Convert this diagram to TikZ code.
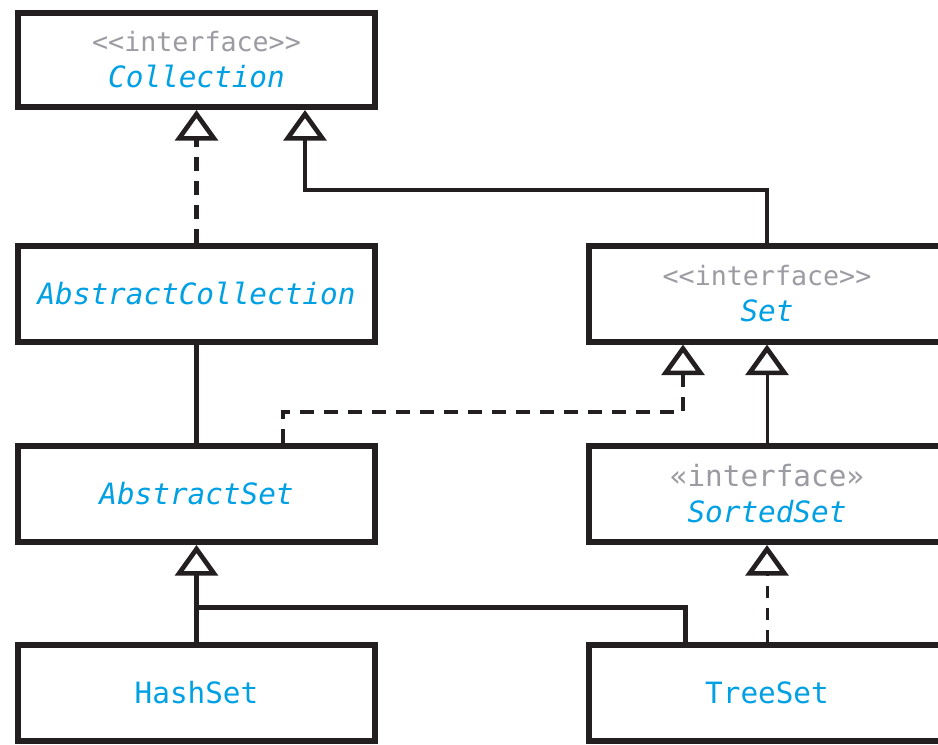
\documentclass[tikz,border=0pt]{standalone}
\usepackage{fontspec}
\setmonofont{DejaVu Sans Mono}
\usetikzlibrary{arrows.meta}
\definecolor{javablue}{RGB}{0,160,228}
\definecolor{stereogray}{RGB}{155,155,162}
\definecolor{umlblack}{RGB}{35,31,32}

\begin{document}
\begin{tikzpicture}[x=0.75pt,y=0.75pt,yscale=-1,xscale=1,
  umlbox/.style={draw=umlblack,line width=4.5pt,fill=white,minimum width=268pt,
    minimum height=72pt,inner sep=0pt,align=center,text=javablue,
    font=\ttfamily\fontsize{22}{27}\selectfont},
  rbox/.style={umlbox,minimum width=267pt},
  inherit/.style={draw=umlblack,-{Triangle[length=23pt,width=32pt,line width=3.5pt,fill=white]}},
  heavy/.style={line width=3.75pt},
  light/.style={line width=2.25pt},
  realize/.style={dash pattern=on 10.5pt off 7.5pt}]
\useasboundingbox (0,0) rectangle (938,744);
\clip (0,0) rectangle (938,744);

%Shape: Rectangle [Collection]
\node [umlbox,minimum height=70.5pt] (coll) at (196.5,60) {{\color{stereogray}\fontsize{20}{25}\selectfont<<interface>>}\\\textit{Collection}};
%Shape: Rectangle [AbstractCollection]
\node [umlbox] (abscoll) at (196.5,293.5) {\textit{AbstractCollection}};
%Shape: Rectangle [AbstractSet]
\node [umlbox] (absset) at (196.5,494) {\textit{AbstractSet}};
%Shape: Rectangle [HashSet]
\node [umlbox] (hashset) at (196.5,692.5) {HashSet};
%Shape: Rectangle [Set]
\node [rbox] (set) at (767,293.5) {{\color{stereogray}\fontsize{20}{28}\selectfont<<interface>>}\\\textit{Set}};
%Shape: Rectangle [SortedSet]
\node [rbox] (sortedset) at (767,494) {{\color{stereogray}«interface»}\\\textit{SortedSet}};
%Shape: Rectangle [TreeSet]
\node [rbox] (treeset) at (767,692.5) {TreeSet};

\coordinate (bendC) at (305,190);
\coordinate (dashL) at (283,412);
\coordinate (dashR) at (683,412);
\coordinate (joinH) at (195,607);
\coordinate (joinT) at (685,607);

%Straight Lines
\draw [inherit,heavy,realize] (abscoll.north) -- (coll.south);
\draw [inherit,line width=3pt] (set.north) |- (bendC) -- (bendC |- coll.south);
\draw [draw=umlblack,heavy] (absset.north) -- (abscoll.south);
\draw [inherit,line width=3pt,realize] (dashL |- absset.north) -- (dashL) -- (dashR) -- (dashR |- set.south);
\draw [inherit,light] (sortedset.north) -- (set.south);
\draw [inherit,heavy] (hashset.north) -- (absset.south);
\draw [draw=umlblack,heavy] (joinT |- treeset.north) -- (joinT) -- (joinH);
\draw [inherit,light,dash pattern=on 9pt off 7.5pt] (treeset.north) -- (sortedset.south);

\end{tikzpicture}
\end{document}
